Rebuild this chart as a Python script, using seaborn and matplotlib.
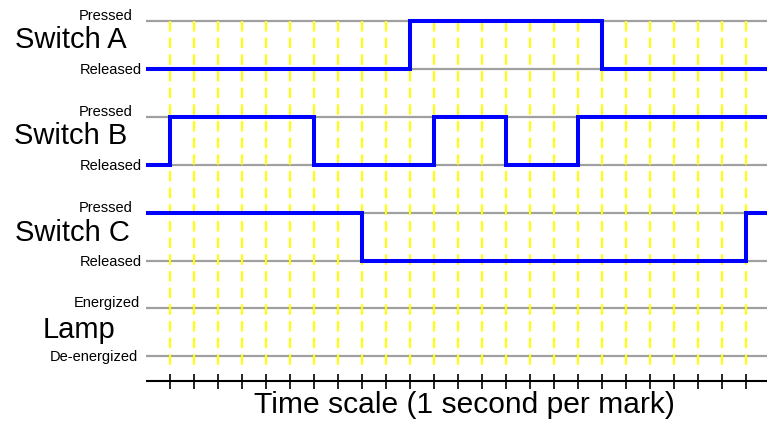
import matplotlib
matplotlib.use("Agg")
import matplotlib.pyplot as plt
import numpy as np
import pandas as pd
import seaborn as sns

# ---------------- data ----------------
signal_names = ["Switch A", "Switch B", "Switch C", "Lamp"]
high_labels = ["Pressed", "Pressed", "Pressed", "Energized"]
low_labels = ["Released", "Released", "Released", "De-energized"]

switch_a_times = [0, 11, 19]
switch_a_states = [0, 1, 0]
switch_b_times = [0, 1, 7, 12, 15, 18]
switch_b_states = [0, 1, 0, 1, 0, 1]
switch_c_times = [0, 9, 25]
switch_c_states = [1, 0, 1]
# Lamp has no trace drawn (to be completed)

tick_marks = list(range(1, 26))
x_title = "Time scale (1 second per mark)"

# ---------------- layout ----------------
W, H = 767, 423
PX0, PX_STEP = 146, 24          # pixel x of time 0, pixels per second
T_END = (W - PX0) / PX_STEP
row_high_px = [21, 117, 213, 308]
SWING = 48
high_lbl_right = [133, 133, 133, 140]
low_lbl_right = [142, 142, 142, 138]
name_center_x = [71, 71, 72, 79]
name_offset = [19, 19, 20, 22]


def px2t(px):
    return (px - PX0) / PX_STEP


sns.set_style("white")
plt.rcParams["font.family"] = ["Liberation Sans", "DejaVu Sans"]
plt.rcParams["text.color"] = "black"

fig = plt.figure(figsize=(W / 100, H / 100), dpi=100)
ax = fig.add_axes([0, 0, 1, 1])

# gray level lines
for hy in row_high_px:
    ax.hlines([hy, hy + SWING], 0, T_END, color="#a0a0a0", lw=1.6, zorder=1)

# yellow dashed time marks
ax.vlines(tick_marks, 21, 367, color="#ffff00", lw=1.5,
          linestyles=[(0, (5, 3))], zorder=2)

# signal traces
series = [(switch_a_times, switch_a_states),
          (switch_b_times, switch_b_states),
          (switch_c_times, switch_c_states)]
rows = []
for i, (ts, ss) in enumerate(series):
    ts2 = list(ts) + [T_END]
    ss2 = list(ss) + [ss[-1]]
    base = row_high_px[i] + SWING
    for t, s in zip(ts2, ss2):
        rows.append({"time": t, "y": base - s * SWING, "signal": signal_names[i]})
df = pd.DataFrame(rows)
sns.lineplot(data=df, x="time", y="y", hue="signal",
             palette=["#0000ff"] * 3, estimator=None, sort=False,
             drawstyle="steps-post", lw=2.9, legend=False, ax=ax, zorder=3,
             solid_joinstyle="miter", solid_capstyle="butt")
ax.set_xlim(px2t(0), px2t(W))
ax.set_ylim(H, 0)
ax.axis("off")

# labels
for i, name in enumerate(signal_names):
    hy = row_high_px[i]
    ax.text(px2t(high_lbl_right[i]), hy - 5, high_labels[i], ha="right",
            va="center", fontsize=10.5, color="black")
    ax.text(px2t(low_lbl_right[i]), hy + SWING + 1.5, low_labels[i], ha="right",
            va="center", fontsize=10.5, color="black")
    ax.text(px2t(name_center_x[i]), hy + name_offset[i], name, ha="center",
            va="center", fontsize=21, color="black")

# time axis
ax.hlines(381.5, 0, T_END, color="black", lw=1.5, zorder=2)
ax.vlines(tick_marks, 374, 389, color="black", lw=1.2, zorder=2)
ax.text(px2t(464), 405, x_title, ha="center", va="center", fontsize=21.6,
        color="black")

fig.savefig("out.png", dpi=100)
